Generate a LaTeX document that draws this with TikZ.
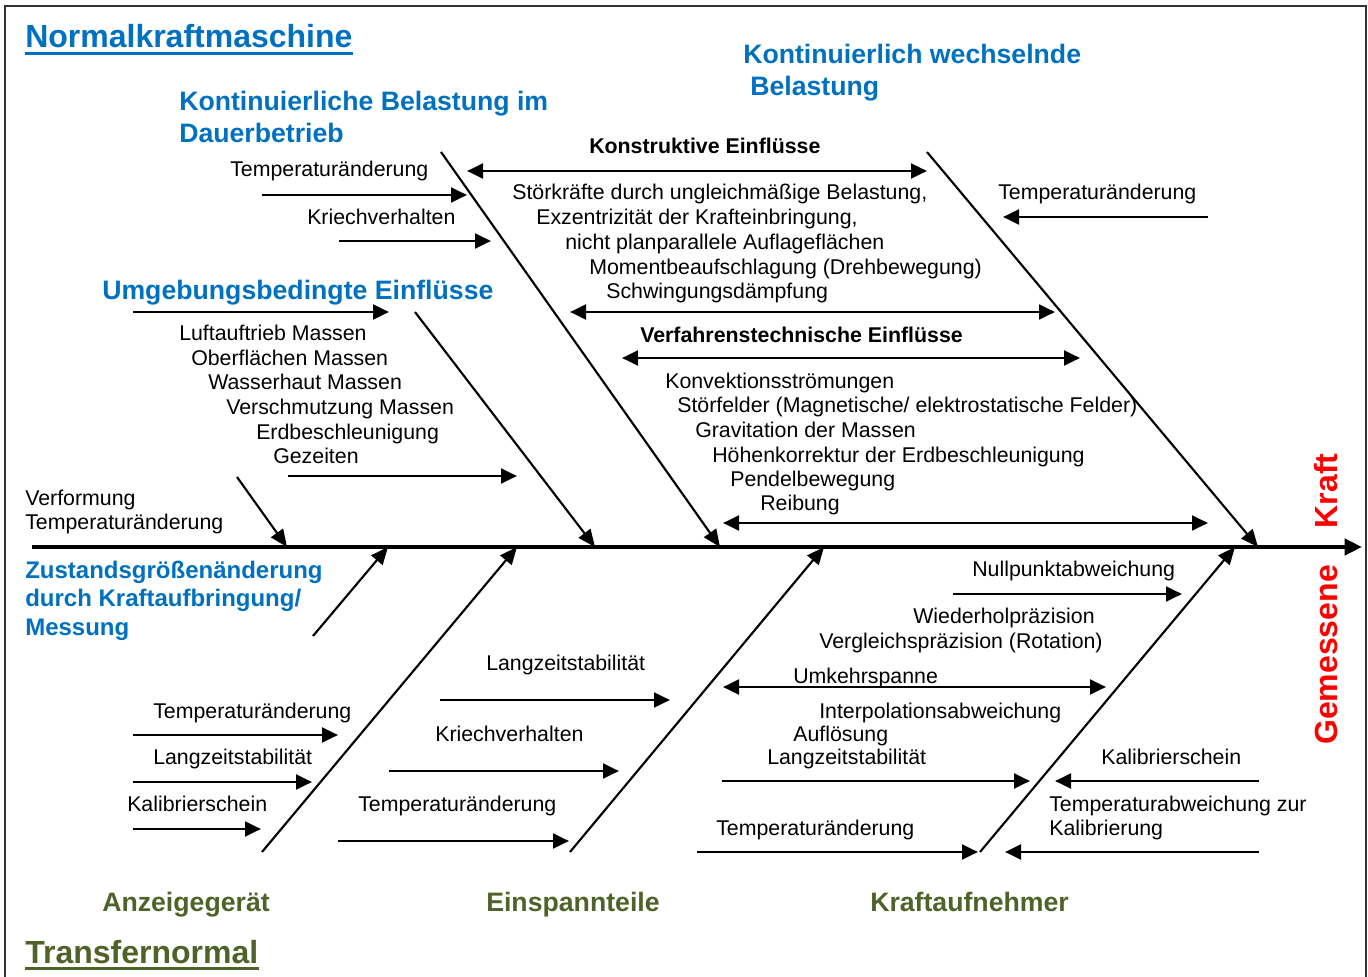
\documentclass[tikz,border=0pt]{standalone}
\usepackage{fontspec}
\setmainfont{Liberation Sans}
\usetikzlibrary{arrows.meta}
\definecolor{hblue}{RGB}{0,112,192}
\definecolor{hgreen}{RGB}{79,98,40}
\definecolor{hred}{RGB}{255,0,0}
\begin{document}
\begin{tikzpicture}[x=0.75pt,y=-0.75pt,
  txt/.style={anchor=base west,inner sep=0pt,font=\fontsize{16}{18.5}\selectfont},
  btxt/.style={anchor=base west,inner sep=0pt,font=\fontsize{16}{18.5}\selectfont\bfseries},
  bhead/.style={anchor=base west,inner sep=0pt,text=hblue,font=\fontsize{20}{24}\selectfont\bfseries},
  shead/.style={anchor=base west,inner sep=0pt,text=hblue,font=\fontsize{18}{21}\selectfont\bfseries},
  ghead/.style={anchor=base west,inner sep=0pt,text=hgreen,font=\fontsize{20}{24}\selectfont\bfseries},
  ttl/.style={anchor=base west,inner sep=0pt,font=\fontsize{24}{28}\selectfont\bfseries},
  rhead/.style={inner sep=0pt,text=hred,rotate=90,font=\fontsize{24}{28}\selectfont\bfseries},
  arr/.style={line width=2.2pt,-{Triangle[length=12pt,width=11pt]}},
  darr/.style={line width=2.2pt,{Triangle[length=12pt,width=11pt]}-{Triangle[length=12pt,width=11pt]}},
  bone/.style={line width=1.6pt,-{Triangle[length=13pt,width=11pt]}},
  spine/.style={line width=3.2pt,-{Triangle[length=13pt,width=12pt]}}]
\useasboundingbox (0,0) rectangle (1368,977);
\draw[line width=1pt,black!80] (5,977) -- (5,6) -- (1366,6) -- (1366,977);

% ---------- coordinates ----------
\coordinate (sp0) at (32,547); \coordinate (sp1) at (1362,547);
\coordinate (b1s) at (441,152); \coordinate (b1e) at (720,547);
\coordinate (b2s) at (927,152); \coordinate (b2e) at (1258,547);
\coordinate (b3s) at (415,312); \coordinate (b3e) at (595,547);
\coordinate (b4s) at (237,477); \coordinate (b4e) at (287,547);
\coordinate (c1s) at (313,636); \coordinate (c1e) at (388,547);
\coordinate (c2s) at (262,852); \coordinate (c2e) at (517,547);
\coordinate (c3s) at (570,852); \coordinate (c3e) at (824,547);
\coordinate (c4s) at (980,852); \coordinate (c4e) at (1235,547);

\coordinate (k1s) at (262,195); \coordinate (k1e) at (467,195);
\coordinate (k2s) at (339,241); \coordinate (k2e) at (491,241);
\coordinate (u1s) at (133,312); \coordinate (u1e) at (389,312);
\coordinate (u2s) at (288,476); \coordinate (u2e) at (517,476);
\coordinate (kd1a) at (467,171); \coordinate (kd1b) at (927,171);
\coordinate (kd2a) at (570,312); \coordinate (kd2b) at (1055,312);
\coordinate (vd1a) at (622,358); \coordinate (vd1b) at (1080,358);
\coordinate (vd2a) at (723,523); \coordinate (vd2b) at (1208,523);
\coordinate (w1s) at (1208,217); \coordinate (w1e) at (1003,217);

\coordinate (n1s) at (953,594); \coordinate (n1e) at (1182,594);
\coordinate (uka) at (723,687); \coordinate (ukb) at (1106,687);
\coordinate (l1s) at (722,781); \coordinate (l1e) at (1030,781);
\coordinate (kas) at (1259,781); \coordinate (kae) at (1055,781);
\coordinate (tas) at (1259,852); \coordinate (tae) at (1005,852);
\coordinate (tks) at (697,852); \coordinate (tke) at (978,852);
\coordinate (e1s) at (440,700); \coordinate (e1e) at (670,700);
\coordinate (e2s) at (389,771); \coordinate (e2e) at (619,771);
\coordinate (e3s) at (338,841); \coordinate (e3e) at (569,841);
\coordinate (a1s) at (133,735); \coordinate (a1e) at (338,735);
\coordinate (a2s) at (133,782); \coordinate (a2e) at (312,782);
\coordinate (a3s) at (133,829); \coordinate (a3e) at (261,829);

% ---------- spine and bones ----------
\draw[spine] (sp0) -- (sp1);
\foreach \b in {b1,b2,b3,b4,c1,c2,c3,c4} \draw[bone] (\b s) -- (\b e);

% ---------- small arrows ----------
\foreach \a in {k1,k2,u1,u2,w1,n1,l1,ka,ta,tk,e1,e2,e3,a1,a2,a3} \draw[arr] (\a s) -- (\a e);
\draw[darr] (kd1a) -- (kd1b);
\draw[darr] (kd2a) -- (kd2b);
\draw[darr] (vd1a) -- (vd1b);
\draw[darr] (vd2a) -- (vd2b);
\draw[darr] (uka) -- (ukb);

% ---------- titles ----------
\node[ttl,text=hblue] (t1) at (25,48) {Normalkraftmaschine};
\draw[hblue,line width=2pt] ([yshift=-3.5pt]t1.south west) -- ([yshift=-3.5pt]t1.south east);
\node[ttl,text=hgreen] (t2) at (25,963) {Transfernormal};
\draw[hgreen,line width=2pt] ([yshift=-3.5pt]t2.south west) -- ([yshift=-3.5pt]t2.south east);

% ---------- blue headings ----------
\node[bhead] (h1a) at (743,64) {Kontinuierlich wechselnde};
\node[bhead] (h1b) at (750,96) {Belastung};
\node[bhead] (h2a) at (179,111) {Kontinuierliche Belastung im};
\node[bhead] (h2b) at (179,143) {Dauerbetrieb};
\node[bhead] (h3) at (102,299) {Umgebungsbedingte Einflüsse};
\node[shead] (h4a) at (25,578) {Zustandsgrößenänderung};
\node[shead] (h4b) at (25,606) {durch Kraftaufbringung/};
\node[shead] (h4c) at (25,635) {Messung};

% ---------- green headings ----------
\node[ghead] (g1) at (102,911) {Anzeigegerät};
\node[ghead] (g2) at (486,911) {Einspannteile};
\node[ghead] (g3) at (870,911) {Kraftaufnehmer};

% ---------- red rotated ----------
\node[rhead] (r1) at (1326,491) {Kraft};
\node[rhead] (r2) at (1326,655) {Gemessene};

% ---------- upper-left texts ----------
\node[txt] (x1) at (230,177) {Temperaturänderung};
\node[txt] (x2) at (307,224) {Kriechverhalten};
\node[txt] (x3) at (179,340) {Luftauftrieb Massen};
\node[txt] (x4) at (191,365) {Oberflächen Massen};
\node[txt] (x5) at (208,389) {Wasserhaut Massen};
\node[txt] (x6) at (226,414) {Verschmutzung Massen};
\node[txt] (x7) at (256,439) {Erdbeschleunigung};
\node[txt] (x8) at (273,463) {Gezeiten};
\node[txt] (x9) at (25,505) {Verformung};
\node[txt] (x10) at (25,529) {Temperaturänderung};

% ---------- upper-middle texts ----------
\node[btxt] (y0) at (589,154) {Konstruktive Einflüsse};
\node[txt] (y1) at (512,200) {Störkräfte durch ungleichmäßige Belastung,};
\node[txt] (y2) at (536,224) {Exzentrizität der Krafteinbringung,};
\node[txt] (y3) at (565,249) {nicht planparallele Auflageflächen};
\node[txt] (y4) at (589,274) {Momentbeaufschlagung (Drehbewegung)};
\node[txt] (y5) at (606,298) {Schwingungsdämpfung};
\node[btxt] (z0) at (640,342) {Verfahrenstechnische Einflüsse};
\node[txt] (z1) at (665,388) {Konvektionsströmungen};
\node[txt] (z2) at (677,412) {Störfelder (Magnetische/ elektrostatische Felder)};
\node[txt] (z3) at (695,437) {Gravitation der Massen};
\node[txt] (z4) at (712,462) {Höhenkorrektur der Erdbeschleunigung};
\node[txt] (z5) at (730,486) {Pendelbewegung};
\node[txt] (z6) at (760,510) {Reibung};
\node[txt] (w1) at (998,200) {Temperaturänderung};

% ---------- lower-right texts ----------
\node[txt] (q1) at (972,576) {Nullpunktabweichung};
\node[txt] (q2) at (913,623) {Wiederholpräzision};
\node[txt] (q3) at (819,648) {Vergleichspräzision (Rotation)};
\node[txt] (q4) at (793,683) {Umkehrspanne};
\node[txt] (q5) at (819,718) {Interpolationsabweichung};
\node[txt] (q6) at (793,741) {Auflösung};
\node[txt] (q7) at (767,764) {Langzeitstabilität};
\node[txt] (q8) at (1101,764) {Kalibrierschein};
\node[txt] (q9) at (1049,811) {Temperaturabweichung zur};
\node[txt] (q10) at (1049,835) {Kalibrierung};
\node[txt] (q11) at (716,835) {Temperaturänderung};

% ---------- lower-middle texts ----------
\node[txt] (p1) at (486,670) {Langzeitstabilität};
\node[txt] (p2) at (435,741) {Kriechverhalten};
\node[txt] (p3) at (358,811) {Temperaturänderung};

% ---------- lower-left texts ----------
\node[txt] (o1) at (153,718) {Temperaturänderung};
\node[txt] (o2) at (153,764) {Langzeitstabilität};
\node[txt] (o3) at (127,811) {Kalibrierschein};
\end{tikzpicture}
\end{document}
